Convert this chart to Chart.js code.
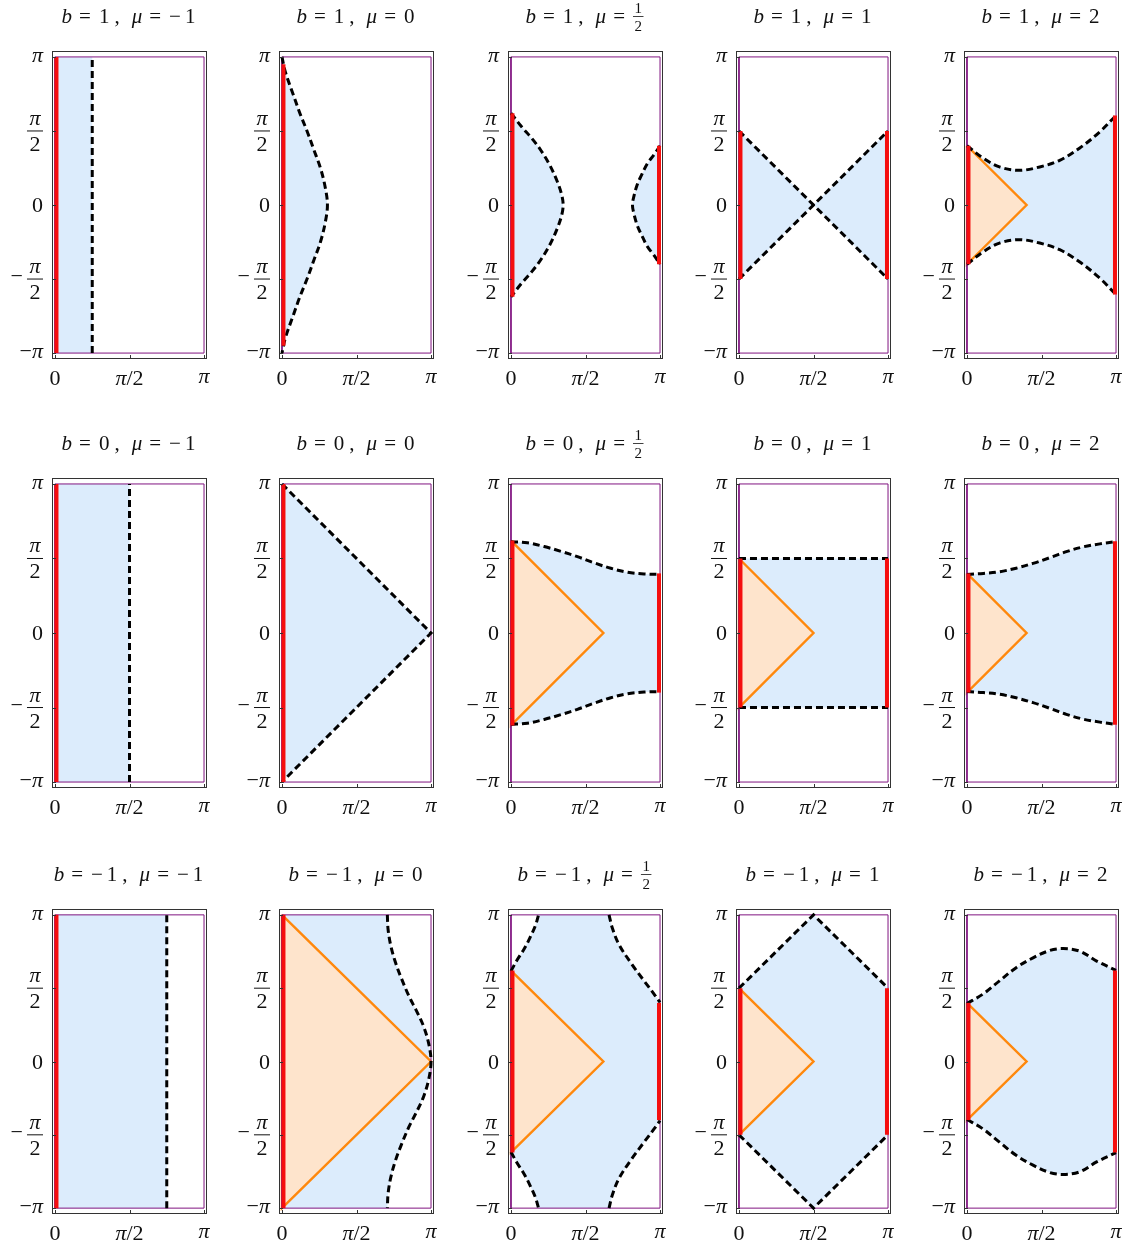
<!DOCTYPE html>
<html lang="en">
<head>
<meta charset="UTF-8">
<title>Regions in the (x, y) square</title>
<script src="https://cdn.jsdelivr.net/npm/chart.js@4.4.1/dist/chart.umd.min.js"></script>
<style>
  html, body { margin: 0; padding: 0; background: #fff; overflow: hidden; }
  #grid { position: relative; width: 1125px; height: 1249px; }
  #grid canvas { position: absolute; }
</style>
</head>
<body>
<div id="grid"></div>
<script>
// every coordinate below is in units of pi
const bLabels = ['1', '0', '−1'];
const muLabels = ['−1', '0', '1/2', '1', '2'];
const xTickVals = [0, 0.5, 1];
const xTickLabels = ['0', 'π/2', 'π'];
const yTickVals = [-1, -0.5, 0, 0.5, 1];
const yTickLabels = ['−π', '−π/2', '0', 'π/2', 'π'];
const domainBox = [[0, -1], [1, -1], [1, 1], [0, 1], [0, -1]];

// ---- b = 1 ----
const r1c1Blue = [[0, -1], [0.25, -1], [0.25, 1], [0, 1]];
const r1c1Dash = [[0.25, -1], [0.25, 1]];
const r1c1Red = [[0.01, -1], [0.01, 1]];

const r1c2Curve = [[0, 1], [0.022, 0.9], [0.074, 0.75], [0.12, 0.62], [0.168, 0.5], [0.215, 0.37], [0.258, 0.25], [0.29, 0.12], [0.305, 0],
  [0.29, -0.12], [0.258, -0.25], [0.215, -0.37], [0.168, -0.5], [0.12, -0.62], [0.074, -0.75], [0.022, -0.9], [0, -1]];
const r1c2Red = [[0.01, -0.95], [0.01, 0.95]];

const r1c3Left = [[0, 0.62], [0.07, 0.53], [0.14, 0.45], [0.2, 0.37], [0.26, 0.27], [0.31, 0.16], [0.34, 0.07], [0.35, 0],
  [0.34, -0.07], [0.31, -0.16], [0.26, -0.27], [0.2, -0.37], [0.14, -0.45], [0.07, -0.53], [0, -0.62]];
const r1c3Right = [[1, 0.4], [0.96, 0.34], [0.915, 0.28], [0.875, 0.2], [0.848, 0.14], [0.825, 0.06], [0.815, 0],
  [0.825, -0.06], [0.848, -0.14], [0.875, -0.2], [0.915, -0.28], [0.96, -0.34], [1, -0.4]];
const r1c3RedL = [[0.01, -0.62], [0.01, 0.62]];
const r1c3RedR = [[0.993, -0.4], [0.993, 0.4]];

const r1c4DashA = [[0, 0.5], [1, -0.5]];
const r1c4DashB = [[0, -0.5], [1, 0.5]];
const r1c4Blue = [[0, 0.5], [0.5, 0], [1, 0.5], [1, -0.5], [0.5, 0], [0, -0.5]];
const r1c4RedL = [[0.01, -0.5], [0.01, 0.5]];
const r1c4RedR = [[0.993, -0.5], [0.993, 0.5]];

const r1c5Orange = [[0, 0.4], [0.4, 0], [0, -0.4], [0, 0.4]];
const r1c5Top = [[0, 0.4], [0.106, 0.318], [0.218, 0.257], [0.353, 0.234], [0.488, 0.257], [0.622, 0.302], [0.757, 0.385], [0.892, 0.495], [1, 0.605]];
const r1c5Bottom = [[0, -0.4], [0.106, -0.318], [0.218, -0.257], [0.353, -0.234], [0.488, -0.257], [0.622, -0.302], [0.757, -0.385], [0.892, -0.495], [1, -0.605]];
const r1c5RedL = [[0.01, -0.4], [0.01, 0.4]];
const r1c5RedR = [[0.993, -0.605], [0.993, 0.605]];

// ---- b = 0 ----
const r2c1Blue = [[0, -1], [0.5, -1], [0.5, 1], [0, 1]];
const r2c1Dash = [[0.5, -1], [0.5, 1]];
const r2c1Red = [[0.01, -1], [0.01, 1]];

const r2c2Dash = [[0, 1], [1, 0], [0, -1]];
const r2c2Red = [[0.01, -1], [0.01, 1]];

const r2c3Orange = [[0, 0.62], [0.62, 0], [0, -0.62], [0, 0.62]];
const r2c3Top = [[0, 0.613], [0.11, 0.605], [0.223, 0.58], [0.335, 0.548], [0.446, 0.512], [0.56, 0.47], [0.67, 0.434], [0.78, 0.408], [0.893, 0.396], [1, 0.393]];
const r2c3Bottom = [[0, -0.613], [0.11, -0.605], [0.223, -0.58], [0.335, -0.548], [0.446, -0.512], [0.56, -0.47], [0.67, -0.434], [0.78, -0.408], [0.893, -0.396], [1, -0.393]];
const r2c3RedL = [[0.01, -0.62], [0.01, 0.62]];
const r2c3RedR = [[0.993, -0.4], [0.993, 0.4]];

const r2c4Top = [[0, 0.5], [1, 0.5]];
const r2c4Bottom = [[0, -0.5], [1, -0.5]];
const r2c4Blue = [[0, 0.5], [1, 0.5], [1, -0.5], [0, -0.5]];
const r2c4Orange = [[0, 0.5], [0.5, 0], [0, -0.5], [0, 0.5]];
const r2c4RedL = [[0.01, -0.5], [0.01, 0.5]];
const r2c4RedR = [[0.993, -0.5], [0.993, 0.5]];

const r2c5Orange = [[0, 0.4], [0.4, 0], [0, -0.4], [0, 0.4]];
const r2c5Top = [[0, 0.393], [0.11, 0.4], [0.218, 0.411], [0.33, 0.435], [0.443, 0.467], [0.555, 0.505], [0.667, 0.546], [0.78, 0.578], [0.892, 0.598], [1, 0.613]];
const r2c5Bottom = [[0, -0.393], [0.11, -0.4], [0.218, -0.411], [0.33, -0.435], [0.443, -0.467], [0.555, -0.505], [0.667, -0.546], [0.78, -0.578], [0.892, -0.598], [1, -0.613]];
const r2c5RedL = [[0.01, -0.4], [0.01, 0.4]];
const r2c5RedR = [[0.993, -0.615], [0.993, 0.615]];

// ---- b = -1 ----
const r3c1Blue = [[0, -1], [0.75, -1], [0.75, 1], [0, 1]];
const r3c1Dash = [[0.75, -1], [0.75, 1]];
const r3c1Red = [[0.01, -1], [0.01, 1]];

const r3c2Orange = [[0, 1], [1, 0], [0, -1], [0, 1]];
const r3c2Curve = [[0.707, 1], [0.712, 0.9], [0.73, 0.79], [0.76, 0.68], [0.8, 0.57], [0.85, 0.45], [0.9, 0.35], [0.95, 0.24], [0.985, 0.12], [1, 0],
  [0.985, -0.12], [0.95, -0.24], [0.9, -0.35], [0.85, -0.45], [0.8, -0.57], [0.76, -0.68], [0.73, -0.79], [0.712, -0.9], [0.707, -1]];
const r3c2Red = [[0.01, -1], [0.01, 1]];

const r3c3Orange = [[0, 0.62], [0.62, 0], [0, -0.62], [0, 0.62]];
const r3c3LeftTop = [[0, 0.617], [0.04, 0.69], [0.09, 0.77], [0.13, 0.85], [0.165, 0.93], [0.185, 1]];
const r3c3LeftBottom = [[0, -0.617], [0.04, -0.69], [0.09, -0.77], [0.13, -0.85], [0.165, -0.93], [0.185, -1]];
const r3c3RightTop = [[0.658, 1], [0.68, 0.91], [0.725, 0.797], [0.804, 0.673], [0.893, 0.55], [0.96, 0.46], [1, 0.403]];
const r3c3RightBottom = [[0.658, -1], [0.68, -0.91], [0.725, -0.797], [0.804, -0.673], [0.893, -0.55], [0.96, -0.46], [1, -0.403]];
const r3c3RedL = [[0.01, -0.62], [0.01, 0.62]];
const r3c3RedR = [[0.993, -0.4], [0.993, 0.4]];

const r3c4Top = [[0, 0.5], [0.5, 1], [1, 0.5]];
const r3c4Bottom = [[0, -0.5], [0.5, -1], [1, -0.5]];
const r3c4Blue = [[0, 0.5], [0.5, 1], [1, 0.5], [1, -0.5], [0.5, -1], [0, -0.5]];
const r3c4Orange = [[0, 0.5], [0.5, 0], [0, -0.5], [0, 0.5]];
const r3c4RedL = [[0.01, -0.5], [0.01, 0.5]];
const r3c4RedR = [[0.993, -0.5], [0.993, 0.5]];

const r3c5Orange = [[0, 0.4], [0.4, 0], [0, -0.4], [0, 0.4]];
const r3c5Top = [[0, 0.396], [0.106, 0.459], [0.218, 0.55], [0.33, 0.64], [0.443, 0.707], [0.555, 0.757], [0.645, 0.77], [0.757, 0.752], [0.87, 0.685], [1, 0.622]];
const r3c5Bottom = [[0, -0.396], [0.106, -0.459], [0.218, -0.55], [0.33, -0.64], [0.443, -0.707], [0.555, -0.757], [0.645, -0.77], [0.757, -0.752], [0.87, -0.685], [1, -0.622]];
const r3c5RedL = [[0.01, -0.4], [0.01, 0.4]];
const r3c5RedR = [[0.993, -0.62], [0.993, 0.62]];

const rev = a => a.slice().reverse();

// panel table, row by row (blue = filled polygons, dash = straight dashed, curve = smooth dashed)
const panels = [
  {blue: [r1c1Blue], dash: [r1c1Dash], red: [r1c1Red]},
  {blue: [r1c2Curve], curve: [r1c2Curve], red: [r1c2Red]},
  {blue: [r1c3Left, r1c3Right], curve: [r1c3Left, r1c3Right], red: [r1c3RedL, r1c3RedR]},
  {blue: [r1c4Blue], dash: [r1c4DashA, r1c4DashB], red: [r1c4RedL, r1c4RedR]},
  {blue: [r1c5Top.concat(rev(r1c5Bottom))], orange: r1c5Orange, curve: [r1c5Top, r1c5Bottom], red: [r1c5RedL, r1c5RedR]},

  {blue: [r2c1Blue], dash: [r2c1Dash], red: [r2c1Red]},
  {blue: [r2c2Dash], dash: [r2c2Dash], red: [r2c2Red]},
  {blue: [r2c3Top.concat(rev(r2c3Bottom))], orange: r2c3Orange, curve: [r2c3Top, r2c3Bottom], red: [r2c3RedL, r2c3RedR]},
  {blue: [r2c4Blue], orange: r2c4Orange, dash: [r2c4Top, r2c4Bottom], red: [r2c4RedL, r2c4RedR]},
  {blue: [r2c5Top.concat(rev(r2c5Bottom))], orange: r2c5Orange, curve: [r2c5Top, r2c5Bottom], red: [r2c5RedL, r2c5RedR]},

  {blue: [r3c1Blue], dash: [r3c1Dash], red: [r3c1Red]},
  {blue: [[[0, 1]].concat(r3c2Curve, [[0, -1]])], orange: r3c2Orange, curve: [r3c2Curve], red: [r3c2Red]},
  {blue: [r3c3LeftTop.concat(r3c3RightTop, rev(r3c3RightBottom), rev(r3c3LeftBottom))], orange: r3c3Orange,
    curve: [r3c3LeftTop, r3c3LeftBottom, r3c3RightTop, r3c3RightBottom], red: [r3c3RedL, r3c3RedR]},
  {blue: [r3c4Blue], orange: r3c4Orange, dash: [r3c4Top, r3c4Bottom], red: [r3c4RedL, r3c4RedR]},
  {blue: [r3c5Top.concat(rev(r3c5Bottom))], orange: r3c5Orange, curve: [r3c5Top, r3c5Bottom], red: [r3c5RedL, r3c5RedR]}
];

const BLUE = 'rgb(220,236,252)';
const ORANGE_FILL = 'rgb(254,228,204)';
const ORANGE = 'rgb(255,136,12)';
const RED = 'rgb(245,14,14)';
const PURPLE = 'rgb(128,20,128)';

const colLeft = [52, 279, 508, 736, 964];
const rowTop = [51, 478, 909];
const rowHeight = [308, 310, 305];
const FRAME_W = 155;
const PAD = {left: 52, right: 4, top: 50, bottom: 36};

const FONT = '"Liberation Serif", "DejaVu Serif", serif';
const ITALIC = 'πbμ';

function runsOf(str) {
  const runs = [];
  for (const ch of str) {
    const it = ITALIC.includes(ch);
    const last = runs[runs.length - 1];
    if (last && last.it === it) last.t += ch;
    else runs.push({t: ch, it: it});
  }
  return runs;
}
function setFont(ctx, size, it) {
  ctx.font = (it ? 'italic ' : '') + size + 'px ' + FONT;
}
function runsWidth(ctx, runs, size) {
  let w = 0;
  runs.forEach(r => { setFont(ctx, size, r.it); w += ctx.measureText(r.t).width; });
  return w;
}
function runsBox(ctx, runs, size) {
  let asc = 0, desc = 0;
  runs.forEach(r => {
    setFont(ctx, size, r.it);
    const m = ctx.measureText(r.t);
    asc = Math.max(asc, m.actualBoundingBoxAscent);
    desc = Math.max(desc, m.actualBoundingBoxDescent);
  });
  return {asc, desc};
}
function drawRuns(ctx, runs, size, x, y) {
  ctx.textAlign = 'left';
  ctx.textBaseline = 'alphabetic';
  runs.forEach(r => {
    setFont(ctx, size, r.it);
    ctx.fillText(r.t, x, y);
    x += ctx.measureText(r.t).width;
  });
  return x;
}
// text whose ink box is centred on (cx, cy)
function drawCentred(ctx, str, size, cx, cy, alignRight) {
  const runs = runsOf(str);
  const w = runsWidth(ctx, runs, size);
  const box = runsBox(ctx, runs, size);
  const x = alignRight ? cx - w : cx - w / 2;
  drawRuns(ctx, runs, size, x, cy + (box.asc - box.desc) / 2);
}

const TICK_SIZE = 22;

function drawYLabel(ctx, label, right, py) {
  const size = TICK_SIZE;
  if (!label.includes('/')) { drawCentred(ctx, label, size, right, py, true); return; }
  const neg = label[0] === '−';
  const [num, den] = (neg ? label.slice(1) : label).split('/');
  const nr = runsOf(num), dr = runsOf(den);
  const nw = runsWidth(ctx, nr, size), dw = runsWidth(ctx, dr, size);
  const bw = Math.max(nw, dw) + 5;
  const left = right - bw;
  ctx.fillRect(left, py - 0.5, bw, 1);
  const nb = runsBox(ctx, nr, size), db = runsBox(ctx, dr, size);
  drawRuns(ctx, nr, size, left + (bw - nw) / 2, py - 6 - nb.desc);
  drawRuns(ctx, dr, size, left + (bw - dw) / 2, py + 6 + db.asc);
  if (neg) drawCentred(ctx, '−', size, left - 4, py, true);
}

function titleItems(b, mu) {
  const items = [{t: 'b'}, {g: 7}, {t: '='}, {g: 8}];
  pushVal(items, b);
  items.push({g: 5}, {t: ','}, {g: 12}, {t: 'μ'}, {g: 7}, {t: '='}, {g: 8});
  pushVal(items, mu);
  return items;
}
function pushVal(items, v) {
  if (v.includes('/')) items.push({frac: v.split('/')});
  else if (v[0] === '−') items.push({t: '−'}, {g: 4}, {t: v.slice(1)});
  else items.push({t: v});
}
function drawTitle(ctx, b, mu, cx, base) {
  const size = 21, fsize = 15;
  const items = titleItems(b, mu);
  items.forEach(it => {
    if (it.t !== undefined) it.w = runsWidth(ctx, runsOf(it.t), size);
    else if (it.frac) it.w = Math.max(runsWidth(ctx, runsOf(it.frac[0]), fsize), runsWidth(ctx, runsOf(it.frac[1]), fsize)) + 3;
    else it.w = it.g;
  });
  let x = cx - items.reduce((s, it) => s + it.w, 0) / 2;
  items.forEach(it => {
    if (it.t !== undefined) drawRuns(ctx, runsOf(it.t), size, x, base);
    else if (it.frac) {
      const bar = base - 6.5;
      ctx.fillRect(x, bar - 0.4, it.w, 0.8);
      const nr = runsOf(it.frac[0]), dr = runsOf(it.frac[1]);
      const nw = runsWidth(ctx, nr, fsize), dw = runsWidth(ctx, dr, fsize);
      drawRuns(ctx, nr, fsize, x + (it.w - nw) / 2, bar - 4);
      drawRuns(ctx, dr, fsize, x + (it.w - dw) / 2, bar + 4 + runsBox(ctx, dr, fsize).asc);
    }
    x += it.w;
  });
}

// frame, inward ticks, tick labels and title
const panelDeco = {
  id: 'panelDeco',
  afterDraw(chart, args, opts) {
    const {ctx, chartArea: a, scales: {x, y}} = chart;
    ctx.save();
    ctx.strokeStyle = '#333';
    ctx.fillStyle = '#111';
    ctx.lineWidth = 1;
    ctx.strokeRect(a.left + 0.5, a.top + 0.5, a.right - a.left - 1, a.bottom - a.top - 1);
    ctx.beginPath();
    yTickVals.forEach(v => {
      const py = Math.round(y.getPixelForValue(v)) + 0.5;
      ctx.moveTo(a.left, py); ctx.lineTo(a.left + 4, py);
    });
    xTickVals.forEach(v => {
      const px = Math.round(x.getPixelForValue(v)) + 0.5;
      ctx.moveTo(px, a.bottom); ctx.lineTo(px, a.bottom - 4);
    });
    ctx.stroke();
    yTickVals.forEach((v, i) => drawYLabel(ctx, yTickLabels[i], a.left - 9, y.getPixelForValue(v)));
    xTickVals.forEach((v, i) => drawCentred(ctx, xTickLabels[i], TICK_SIZE, x.getPixelForValue(v), a.bottom + 19, false));
    drawTitle(ctx, opts.b, opts.mu, (a.left + a.right) / 2 - 1, a.top - 28);
    ctx.restore();
  }
};

const pts = arr => arr.map(p => ({x: p[0], y: p[1]}));
const grid = document.getElementById('grid');

panels.forEach((p, i) => {
  const row = Math.floor(i / 5), col = i % 5;
  const cv = document.createElement('canvas');
  cv.width = PAD.left + FRAME_W + PAD.right;
  cv.height = PAD.top + rowHeight[row] + PAD.bottom;
  cv.style.left = (colLeft[col] - PAD.left) + 'px';
  cv.style.top = (rowTop[row] - PAD.top) + 'px';
  grid.appendChild(cv);

  const ds = [];
  (p.blue || []).forEach(poly => ds.push({data: pts(poly), fill: 'shape', backgroundColor: BLUE,
    borderColor: 'rgba(0,0,0,0)', borderWidth: 0, order: 6}));
  if (p.orange) ds.push({data: pts(p.orange), fill: 'shape', backgroundColor: ORANGE_FILL,
    borderColor: ORANGE, borderWidth: 2.4, order: 5});
  ds.push({data: pts(domainBox), borderColor: PURPLE, borderWidth: 1, order: 4});
  (p.dash || []).forEach(l => ds.push({data: pts(l), borderColor: '#000', borderWidth: 3,
    borderDash: [7, 4], order: 3}));
  (p.curve || []).forEach(l => ds.push({data: pts(l), borderColor: '#000', borderWidth: 3,
    borderDash: [7, 4], tension: 0.35, order: 3}));
  (p.red || []).forEach(l => ds.push({data: pts(l), borderColor: RED, borderWidth: 4, order: 2}));

  new Chart(cv, {
    type: 'line',
    data: {datasets: ds},
    options: {
      responsive: false,
      animation: false,
      events: [],
      layout: {padding: PAD},
      elements: {
        point: {radius: 0, hoverRadius: 0},
        line: {borderCapStyle: 'butt', borderJoinStyle: 'miter', fill: false}
      },
      scales: {
        x: {type: 'linear', min: -0.02, max: 1.02, display: false},
        y: {type: 'linear', min: -1.04, max: 1.04, display: false}
      },
      plugins: {
        legend: {display: false},
        tooltip: {enabled: false},
        panelDeco: {b: bLabels[row], mu: muLabels[col]}
      }
    },
    plugins: [panelDeco]
  });
});
</script>
</body>
</html>
